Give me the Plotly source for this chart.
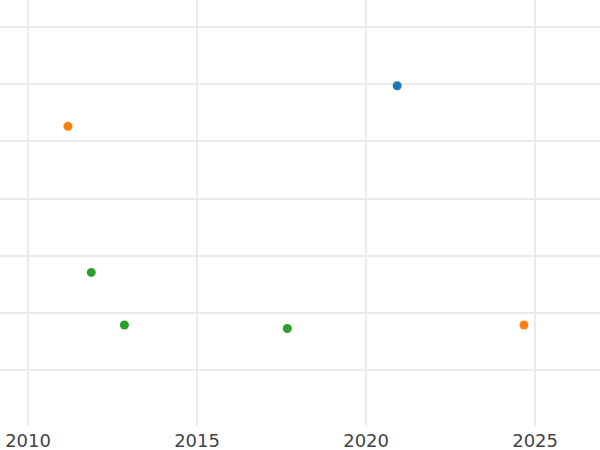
import plotly.graph_objects as go

# values (y axis has no labels, units are grid steps)
years_blue = [2020.92]
vals_blue = [4.97]
years_orange = [2011.18, 2024.67]
vals_orange = [4.26, 0.79]
years_green = [2011.87, 2012.85, 2017.67]
vals_green = [1.71, 0.79, 0.73]

fig = go.Figure()
fig.add_trace(go.Scatter(x=years_blue, y=vals_blue, mode='markers',
                         marker=dict(color='#1f77b4', size=9)))
fig.add_trace(go.Scatter(x=years_orange, y=vals_orange, mode='markers',
                         marker=dict(color='#ff7f0e', size=9)))
fig.add_trace(go.Scatter(x=years_green, y=vals_green, mode='markers',
                         marker=dict(color='#2ca02c', size=9)))

fig.update_layout(
    width=600, height=450,
    template='none',
    paper_bgcolor='white', plot_bgcolor='white',
    showlegend=False,
    margin=dict(l=0, r=0, t=0, b=24),
    font=dict(family='DejaVu Sans', size=18, color='#444'),
)
fig.update_xaxes(range=[2009.17, 2026.92], dtick=5, tick0=2010,
                 showgrid=True, gridcolor='#ebebeb', gridwidth=1.5,
                 zeroline=False, showline=False, ticks='', ticklabelstandoff=2)
fig.update_yaxes(range=[-0.973, 6.467], dtick=1, tick0=0,
                 showgrid=True, gridcolor='#ebebeb', gridwidth=1.5,
                 zeroline=False, showline=False, showticklabels=False, ticks='')

# the page body has an 8px margin by default; drop it so the plot sits at 0,0
fig.write_html("out.html", config={'displayModeBar': False},
               post_script="document.body.style.margin='0';")
